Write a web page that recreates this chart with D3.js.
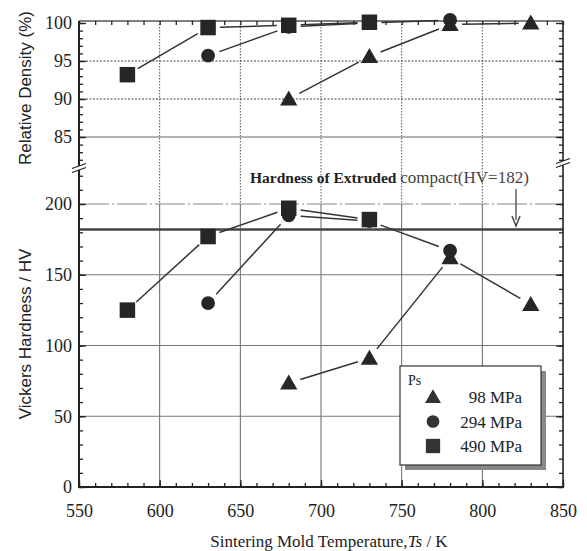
<!DOCTYPE html>
<html><head><meta charset="utf-8">
<script src="https://cdn.jsdelivr.net/npm/d3@7/dist/d3.min.js"></script>
<style>body{margin:0;background:#fff}svg{display:block}text{font-family:"Liberation Serif","DejaVu Serif",serif;fill:#222}</style>
</head><body><svg id="c" width="587" height="551"></svg>
<script>
const temps = [580, 630, 680, 730, 780, 830];
const density98  = [null, null, 90.0, 95.6, 99.8, 100.0];
const density294 = [null, 95.7, 99.5, 100.0, 100.4, null];
const density490 = [93.2, 99.4, 99.7, 100.1, null, null];
const hardness98  = [null, null, 73.5, 91, 162, 129];
const hardness294 = [null, 130, 192, 188, 167, null];
const hardness490 = [125, 177, 197, 189, null, null];
const seriesNames = ["98 MPa", "294 MPa", "490 MPa"];
const seriesShapes = ["triangle", "circle", "square"];
const xTicks = [550, 600, 650, 700, 750, 800, 850];
const densTicks = [85, 90, 95, 100];
const hardTicks = [0, 50, 100, 150, 200];
const extrudedHV = 182;

const svg = d3.select("#c");
const L = 79, R = 563, T = 21, B = 487, BRK = 168;
const x = d3.scaleLinear().domain([550, 850]).range([L, R]);
const yT = d3.scaleLinear().domain([85, 100]).range([137, 23]);
const yB = d3.scaleLinear().domain([0, 200]).range([B, 204]);
const ink = "#222";
const SERIF = "'Liberation Serif', serif";

// grid
const g = svg.append("g");
[600,650,700,750,800].forEach(v => {
  g.append("line").attr("x1", x(v)).attr("x2", x(v)).attr("y1", T).attr("y2", yB(200))
    .attr("stroke", "#555").attr("stroke-width", 1).attr("stroke-dasharray", "1.5,1.5");
  g.append("line").attr("x1", x(v)).attr("x2", x(v)).attr("y1", yB(200)).attr("y2", B)
    .attr("stroke", "#666").attr("stroke-width", 1);
});
[90, 95].forEach(v => g.append("line").attr("x1", L).attr("x2", R).attr("y1", yT(v)).attr("y2", yT(v))
  .attr("stroke", "#444").attr("stroke-width", 1).attr("stroke-dasharray", "2,1.5"));
g.append("line").attr("x1", L).attr("x2", R).attr("y1", yT(85)).attr("y2", yT(85)).attr("stroke", "#999").attr("stroke-width", 1.5);
g.append("line").attr("x1", L).attr("x2", R).attr("y1", T).attr("y2", T).attr("stroke", "#555").attr("stroke-width", 1.5);
[50, 100, 150].forEach(v => g.append("line").attr("x1", L).attr("x2", R).attr("y1", yB(v)).attr("y2", yB(v))
  .attr("stroke", "#777").attr("stroke-width", 1.2));
g.append("line").attr("x1", L).attr("x2", R).attr("y1", yB(200)).attr("y2", yB(200))
  .attr("stroke", "#888").attr("stroke-width", 1.2).attr("stroke-dasharray", "30,3,2,3");
g.append("line").attr("x1", L).attr("x2", R).attr("y1", yB(extrudedHV)).attr("y2", yB(extrudedHV))
  .attr("stroke", "#444").attr("stroke-width", 2.5);

// axes
function minorRange(a, b, s){ return d3.range(a, b + 1e-9, s); }
const ax = svg.append("g");
function addAxis(axis, tx, ty){
  return ax.append("g").attr("transform", `translate(${tx},${ty})`).call(axis)
    .call(s => s.select(".domain").remove());
}
addAxis(d3.axisLeft(yT).tickValues(densTicks).tickSizeInner(-7).tickSizeOuter(0).tickPadding(7), L, 0);
addAxis(d3.axisLeft(yT).tickValues(minorRange(82, 100, 1)).tickSizeInner(-4).tickSizeOuter(0).tickFormat(""), L, 0);
addAxis(d3.axisLeft(yB).tickValues(hardTicks).tickSizeInner(-7).tickSizeOuter(0).tickPadding(7), L, 0);
addAxis(d3.axisLeft(yB).tickValues(minorRange(0, 220, 10)).tickSizeInner(-4).tickSizeOuter(0).tickFormat(""), L, 0);
addAxis(d3.axisRight(yT).tickValues(minorRange(82, 100, 1)).tickSizeInner(-4).tickSizeOuter(0).tickFormat(""), R, 0);
addAxis(d3.axisRight(yT).tickValues(densTicks).tickSizeInner(-7).tickSizeOuter(0).tickFormat(""), R, 0);
addAxis(d3.axisRight(yB).tickValues(minorRange(0, 220, 10)).tickSizeInner(-4).tickSizeOuter(0).tickFormat(""), R, 0);
addAxis(d3.axisRight(yB).tickValues(hardTicks).tickSizeInner(-7).tickSizeOuter(0).tickFormat(""), R, 0);
addAxis(d3.axisBottom(x).tickValues(xTicks).tickSizeInner(-7).tickSizeOuter(0).tickPadding(17), 0, B);
addAxis(d3.axisBottom(x).tickValues(minorRange(550, 850, 10)).tickSizeInner(-4).tickSizeOuter(0).tickFormat(""), 0, B);
addAxis(d3.axisTop(x).tickValues(minorRange(550, 850, 10)).tickSizeInner(-4).tickSizeOuter(0).tickFormat(""), 0, T);
ax.selectAll("g").attr("font-family", SERIF).attr("font-size", 18);
ax.selectAll(".tick line").attr("stroke", ink).attr("stroke-width", 1.3);
ax.selectAll(".tick text").attr("font-size", 18).attr("fill", ink).attr("font-family", SERIF)
  .style("font-family", SERIF);

// frame
svg.append("line").attr("x1", L).attr("x2", L).attr("y1", T).attr("y2", B).attr("stroke", ink).attr("stroke-width", 2);
svg.append("line").attr("x1", R).attr("x2", R).attr("y1", T).attr("y2", B).attr("stroke", ink).attr("stroke-width", 1.6);
svg.append("line").attr("x1", L - 1).attr("x2", R + 1).attr("y1", B).attr("y2", B).attr("stroke", ink).attr("stroke-width", 2);

// break marks
function brk(cx, cy){
  const b = svg.append("g");
  b.append("rect").attr("x", cx - 6).attr("y", cy - 2).attr("width", 12).attr("height", 4).attr("fill", "#fff");
  [-2, 2].forEach(o => b.append("line").attr("x1", cx - 7).attr("x2", cx + 7)
    .attr("y1", cy + o + 2.5).attr("y2", cy + o - 2.5).attr("stroke", ink).attr("stroke-width", 1.3));
}
brk(L, BRK);
brk(R, 163);

// series
const shapeSym = {triangle: d3.symbolTriangle, circle: d3.symbolCircle, square: d3.symbolSquare};
const shapeSize = {triangle: 130, circle: 150, square: 240};
function drawSeries(vals, yS, shape){
  const pts = temps.map((t, i) => vals[i] == null ? null : [x(t), yS(vals[i])]);
  const line = d3.line();
  for (let i = 0; i < pts.length - 1; i++) {
    const a = pts[i], b = pts[i + 1];
    if (!a || !b) continue;
    const dx = b[0] - a[0], dy = b[1] - a[1], len = Math.hypot(dx, dy);
    const gap = 12;
    if (len < 2 * gap + 4) continue;
    const ux = dx / len, uy = dy / len;
    svg.append("path").attr("d", line([[a[0] + ux * gap, a[1] + uy * gap], [b[0] - ux * gap, b[1] - uy * gap]]))
      .attr("stroke", "#333").attr("stroke-width", 1.5).attr("fill", "none");
  }
  pts.forEach(p => {
    if (!p) return;
    const dy = shape === "triangle" ? 1.5 : 0;
    svg.append("path").attr("d", d3.symbol(shapeSym[shape], shapeSize[shape])())
      .attr("transform", `translate(${p[0]},${p[1] + dy})`).attr("fill", "#262626");
  });
}
drawSeries(density98, yT, "triangle");
drawSeries(density294, yT, "circle");
drawSeries(density490, yT, "square");
drawSeries(hardness98, yB, "triangle");
drawSeries(hardness294, yB, "circle");
drawSeries(hardness490, yB, "square");

// annotation
const ann = svg.append("text").attr("x", 250).attr("y", 183);
ann.append("tspan").text("Hardness of Extruded ").attr("font-weight", "bold").attr("font-size", 15.5);
ann.append("tspan").text("compact(HV=" + extrudedHV + ")").attr("font-size", 17).attr("fill", "#444");
svg.append("line").attr("x1", 516).attr("x2", 516).attr("y1", 189).attr("y2", 220).attr("stroke", "#444").attr("stroke-width", 1.3);
svg.append("path").attr("d", d3.line()([[512, 216], [516, 226], [520, 216]])).attr("fill", "none").attr("stroke", "#444").attr("stroke-width", 1.5);

// legend
const lg = svg.append("g").attr("transform", "translate(400,366)");
lg.append("rect").attr("x", 5).attr("y", 5).attr("width", 141).attr("height", 99).attr("fill", "#888");
lg.append("rect").attr("width", 141).attr("height", 99).attr("fill", "#fff").attr("stroke", "#333").attr("stroke-width", 1.2);
lg.append("text").attr("x", 8).attr("y", 19).attr("font-size", 14).text("Ps");
seriesNames.forEach((n, i) => {
  const cy = 31 + i * 24.5;
  lg.append("path").attr("d", d3.symbol(shapeSym[seriesShapes[i]], shapeSize[seriesShapes[i]] * 0.85)())
    .attr("transform", `translate(33,${cy + (i === 0 ? 1.5 : 0)})`).attr("fill", "#333");
  lg.append("text").attr("x", 122).attr("y", cy + 6).attr("text-anchor", "end").attr("font-size", 17).text(n);
});

// axis titles
svg.append("text").attr("transform", "translate(31,88) rotate(-90)").attr("text-anchor", "middle")
  .attr("font-size", 17).attr("style", "font-family:'Liberation Sans',sans-serif").text("Relative Density (%)");
svg.append("text").attr("transform", "translate(31,334) rotate(-90)").attr("text-anchor", "middle")
  .attr("font-size", 17).attr("style", "font-family:'Liberation Sans',sans-serif").text("Vickers Hardness / HV");
const xt = svg.append("text").attr("x", 329).attr("y", 547).attr("text-anchor", "middle").attr("font-size", 17);
xt.append("tspan").text("Sintering Mold Temperature,");
xt.append("tspan").text("Ts").attr("font-style", "italic");
xt.append("tspan").text(" / K");
</script></body></html>
